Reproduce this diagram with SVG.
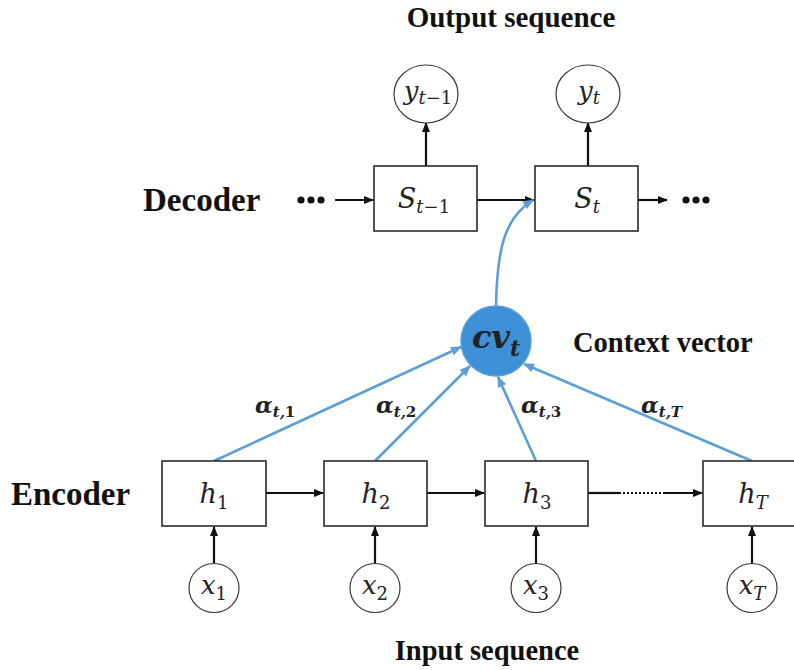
<svg xmlns="http://www.w3.org/2000/svg" width="794" height="670" viewBox="0 0 794 670">
<style>
.bg{fill:#ffffff}
.box{fill:#ffffff;stroke:#2b2b2b;stroke-width:1.6}
.circ{fill:#ffffff;stroke:#3a3a3a;stroke-width:1.2}
.title{font-family:"Liberation Serif",serif;font-weight:bold;fill:#111}
.math{font-family:"DejaVu Serif",serif;font-style:italic;fill:#222}
.up{font-style:normal}
.al{font-family:"DejaVu Serif",serif;font-style:italic;font-weight:bold;fill:#222}
.k{stroke:#111;stroke-width:2.2;fill:none}
.b{stroke:#5b9fd6;stroke-width:2.6;fill:none}
.dot{fill:#111}
</style>
<defs>
<marker id="ak" markerUnits="userSpaceOnUse" markerWidth="10" markerHeight="8" refX="9" refY="4" orient="auto">
<path d="M0,0 L10,4 L0,8 z" fill="#111"/>
</marker>
<marker id="ab" markerUnits="userSpaceOnUse" markerWidth="11" markerHeight="9" refX="10" refY="4.5" orient="auto">
<path d="M0,0 L11,4.5 L0,9 z" fill="#5b9fd6"/>
</marker>
</defs>
<rect class="bg" x="0" y="0" width="794" height="670"/>

<text class="title" x="511" y="27" font-size="29" text-anchor="middle">Output sequence</text>
<text class="title" x="143" y="211" font-size="33">Decoder</text>
<text class="title" x="11" y="505" font-size="33">Encoder</text>
<text class="title" x="573" y="352" font-size="28.5">Context vector</text>
<text class="title" x="487" y="660" font-size="28.5" text-anchor="middle">Input sequence</text>

<g id="connectors">
<circle class="dot" cx="301" cy="200" r="3.6"/><circle class="dot" cx="311" cy="200" r="3.6"/><circle class="dot" cx="321" cy="200" r="3.6"/>
<line class="k" x1="335" y1="200" x2="373" y2="200" marker-end="url(#ak)"/>
<line class="k" x1="477" y1="200" x2="534" y2="200" marker-end="url(#ak)"/>
<line class="k" x1="638" y1="200" x2="667" y2="200" marker-end="url(#ak)"/>
<circle class="dot" cx="686" cy="200" r="3.6"/><circle class="dot" cx="696" cy="200" r="3.6"/><circle class="dot" cx="706" cy="200" r="3.6"/>
<line class="k" x1="426" y1="166" x2="426" y2="123" marker-end="url(#ak)"/>
<line class="k" x1="588" y1="166" x2="588" y2="123" marker-end="url(#ak)"/>
<line class="k" x1="266" y1="493" x2="323" y2="493" marker-end="url(#ak)"/>
<line class="k" x1="427" y1="493" x2="484" y2="493" marker-end="url(#ak)"/>
<line class="k" x1="588" y1="493" x2="619" y2="493"/>
<line class="k" x1="619" y1="493" x2="664" y2="493" stroke-dasharray="2 2"/>
<line class="k" x1="664" y1="493" x2="702" y2="493" marker-end="url(#ak)"/>
<line class="k" x1="214" y1="564" x2="214" y2="527" marker-end="url(#ak)"/>
<line class="k" x1="375" y1="564" x2="375" y2="527" marker-end="url(#ak)"/>
<line class="k" x1="536" y1="564" x2="536" y2="527" marker-end="url(#ak)"/>
<line class="k" x1="752" y1="564" x2="752" y2="527" marker-end="url(#ak)"/>
<path class="b" d="M496,306 C497,250 504,218 533,200" marker-end="url(#ab)"/>
<line class="b" x1="214" y1="461" x2="461" y2="347" marker-end="url(#ab)"/>
<line class="b" x1="375" y1="461" x2="470" y2="366" marker-end="url(#ab)"/>
<line class="b" x1="536" y1="461" x2="498" y2="377" marker-end="url(#ab)"/>
<line class="b" x1="752" y1="461" x2="524" y2="364" marker-end="url(#ab)"/>
<text class="al" x="255" y="413" font-size="23">α<tspan font-size="15" dy="4">t,</tspan><tspan class="up" font-size="15">1</tspan></text>
<text class="al" x="376" y="413" font-size="23">α<tspan font-size="15" dy="4">t,</tspan><tspan class="up" font-size="15">2</tspan></text>
<text class="al" x="521" y="413" font-size="23">α<tspan font-size="15" dy="4">t,</tspan><tspan class="up" font-size="15">3</tspan></text>
<text class="al" x="641" y="413" font-size="23">α<tspan font-size="15" dy="4">t,T</tspan></text>
</g>

<g id="y_tm1">
<ellipse class="circ" cx="426" cy="94" rx="32" ry="29"/>
<text class="math" x="428" y="100" font-size="26" text-anchor="middle">y<tspan font-size="18" dy="4">t</tspan><tspan class="up" font-size="18">−1</tspan></text>
</g>
<g id="y_t">
<ellipse class="circ" cx="588" cy="94" rx="32" ry="29"/>
<text class="math" x="589" y="100" font-size="26" text-anchor="middle">y<tspan font-size="18" dy="4">t</tspan></text>
</g>
<g id="s_tm1">
<rect class="box" x="374" y="166" width="103" height="65"/>
<text class="math" x="424" y="208" font-size="27" text-anchor="middle">S<tspan font-size="18" dy="5">t</tspan><tspan class="up" font-size="18">−1</tspan></text>
</g>
<g id="s_t">
<rect class="box" x="535" y="166" width="103" height="65"/>
<text class="math" x="587" y="208" font-size="27" text-anchor="middle">S<tspan font-size="18" dy="5">t</tspan></text>
</g>
<g id="cv_t">
<circle cx="496" cy="341" r="35" fill="#3d8fd6" stroke="#5b9fd6" stroke-width="1.5"/>
<text class="al" x="496" y="348" font-size="32" fill="#0a1a2a" text-anchor="middle">cv<tspan font-size="22" dy="8">t</tspan></text>
</g>
<g id="h1">
<rect class="box" x="162" y="461" width="104" height="65"/>
<text class="math" x="214" y="503" font-size="27" text-anchor="middle">h<tspan class="up" font-size="18" dy="6">1</tspan></text>
</g>
<g id="h2">
<rect class="box" x="324" y="461" width="103" height="65"/>
<text class="math" x="376" y="503" font-size="27" text-anchor="middle">h<tspan class="up" font-size="18" dy="6">2</tspan></text>
</g>
<g id="h3">
<rect class="box" x="485" y="461" width="103" height="65"/>
<text class="math" x="537" y="503" font-size="27" text-anchor="middle">h<tspan class="up" font-size="18" dy="6">3</tspan></text>
</g>
<g id="hT">
<rect class="box" x="703" y="461" width="103" height="65"/>
<text class="math" x="753" y="503" font-size="27" text-anchor="middle">h<tspan font-size="18" dy="6">T</tspan></text>
</g>
<g id="x1">
<ellipse class="circ" cx="214" cy="588" rx="25" ry="24.5"/>
<text class="math" x="214" y="594" font-size="26" text-anchor="middle">x<tspan class="up" font-size="18" dy="6">1</tspan></text>
</g>
<g id="x2">
<ellipse class="circ" cx="375" cy="588" rx="25" ry="24.5"/>
<text class="math" x="375" y="594" font-size="26" text-anchor="middle">x<tspan class="up" font-size="18" dy="6">2</tspan></text>
</g>
<g id="x3">
<ellipse class="circ" cx="536" cy="588" rx="25" ry="24.5"/>
<text class="math" x="536" y="594" font-size="26" text-anchor="middle">x<tspan class="up" font-size="18" dy="6">3</tspan></text>
</g>
<g id="xT">
<ellipse class="circ" cx="752" cy="588" rx="25" ry="24.5"/>
<text class="math" x="752" y="594" font-size="26" text-anchor="middle">x<tspan font-size="18" dy="6">T</tspan></text>
</g>
</svg>
